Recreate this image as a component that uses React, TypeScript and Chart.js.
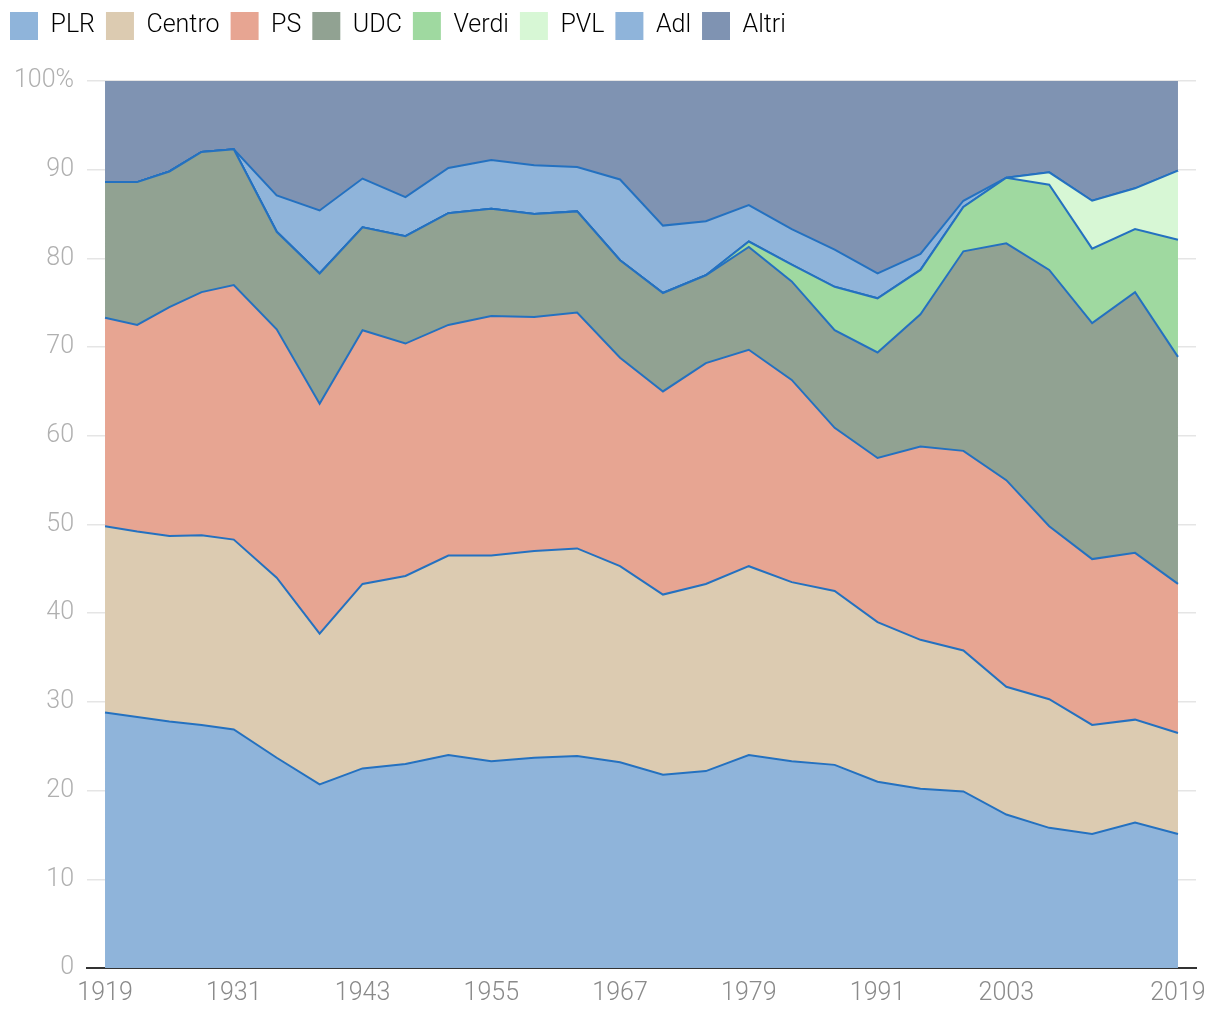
import { useEffect, useRef } from "react";
import { Chart, registerables } from "chart.js";

Chart.register(...registerables);

const years = [1919, 1922, 1925, 1928, 1931, 1935, 1939, 1943, 1947, 1951, 1955, 1959, 1963, 1967, 1971, 1975, 1979, 1983, 1987, 1991, 1995, 1999, 2003, 2007, 2011, 2015, 2019];
const xTickYears = [1919, 1931, 1943, 1955, 1967, 1979, 1991, 2003, 2019];

const plr = [28.8, 28.3, 27.8, 27.4, 26.9, 23.7, 20.7, 22.5, 23.0, 24.0, 23.3, 23.7, 23.9, 23.2, 21.8, 22.2, 24.0, 23.3, 22.9, 21.0, 20.2, 19.9, 17.3, 15.8, 15.1, 16.4, 15.1];
const centro = [21.0, 20.9, 20.9, 21.4, 21.4, 20.3, 17.0, 20.8, 21.2, 22.5, 23.2, 23.3, 23.4, 22.1, 20.3, 21.1, 21.3, 20.2, 19.6, 18.0, 16.8, 15.9, 14.4, 14.5, 12.3, 11.6, 11.4];
const ps = [23.5, 23.3, 25.8, 27.4, 28.7, 28.0, 25.9, 28.6, 26.2, 26.0, 27.0, 26.4, 26.6, 23.5, 22.9, 24.9, 24.4, 22.8, 18.4, 18.5, 21.8, 22.5, 23.3, 19.5, 18.7, 18.8, 16.8];
const udc = [15.3, 16.1, 15.3, 15.8, 15.3, 11.0, 14.7, 11.6, 12.1, 12.6, 12.1, 11.6, 11.4, 11.0, 11.1, 9.9, 11.6, 11.1, 11.0, 11.9, 14.9, 22.5, 26.7, 28.9, 26.6, 29.4, 25.6];
const verdi = [0, 0, 0, 0, 0, 0, 0, 0, 0, 0, 0, 0, 0, 0, 0, 0, 0.6, 1.9, 4.9, 6.1, 5.0, 5.0, 7.4, 9.6, 8.4, 7.1, 13.2];
const pvl = [0, 0, 0, 0, 0, 0, 0, 0, 0, 0, 0, 0, 0, 0, 0, 0, 0, 0, 0, 0, 0, 0, 0, 1.4, 5.4, 4.6, 7.8];
const adl = [0, 0, 0, 0, 0, 4.1, 7.1, 5.5, 4.4, 5.1, 5.5, 5.5, 5.0, 9.1, 7.6, 6.1, 4.1, 4.0, 4.2, 2.8, 1.8, 0.7, 0, 0, 0, 0, 0];
const altri = [11.4, 11.4, 10.2, 8.0, 7.7, 12.9, 14.6, 11.0, 13.1, 9.8, 8.9, 9.5, 9.7, 11.1, 16.3, 15.8, 14.0, 16.7, 19.0, 21.7, 19.5, 13.5, 10.9, 10.3, 13.5, 12.1, 10.1];

const seriesLabels = ["PLR", "Centro", "PS", "UDC", "Verdi", "PVL", "Adl", "Altri"];
const seriesData = [plr, centro, ps, udc, verdi, pvl, adl, altri];
const seriesColors = ["#8fb4da", "#dccbb1", "#e7a592", "#91a292", "#9fd9a0", "#d7f7d5", "#8fb4da", "#7f93b2"];

const LINE = "#2471c0";
const FONT = "Roboto, 'Helvetica Neue', Inter, sans-serif";

const legendSpacing = {
  id: "legendSpacing",
  beforeInit(chart: any) {
    const legend = chart.legend;
    if (!legend) return;
    const origFit = legend.fit;
    legend.fit = function () {
      origFit.call(this);
      this.height += 31;
    };
  },
};

export default function App() {
  const ref = useRef<HTMLCanvasElement>(null);
  useEffect(() => {
    document.body.style.margin = "0";
    const canvas = ref.current;
    if (!canvas) return;
    const datasets = seriesLabels.map((label, i) => ({
      label,
      data: seriesData[i].map((v, j) => ({ x: years[j], y: v })),
      backgroundColor: seriesColors[i],
      borderColor: LINE,
      borderWidth: i === seriesLabels.length - 1 ? 0 : 2,
      fill: i === 0 ? "origin" : "-1",
      pointRadius: 0,
      pointHoverRadius: 0,
      tension: 0,
    }));
    const chart = new Chart(canvas, {
      type: "line",
      data: { datasets },
      plugins: [legendSpacing],
      options: {
        animation: false,
        responsive: true,
        maintainAspectRatio: false,
        layout: { padding: { left: 0, right: 24, top: 0, bottom: 0 } },
        plugins: {
          tooltip: { enabled: false },
          legend: {
            position: "top",
            align: "start",
            labels: {
              boxWidth: 28,
              boxHeight: 28,
              padding: 11,
              color: "#353535",
              font: { family: FONT, size: 25, weight: "300" },
              generateLabels: (c: any) =>
                c.data.datasets.map((ds: any, i: number) => ({
                  text: ds.label,
                  fillStyle: ds.backgroundColor,
                  strokeStyle: ds.backgroundColor,
                  lineWidth: 0,
                  hidden: false,
                  datasetIndex: i,
                })),
            },
          },
        },
        scales: {
          x: {
            type: "linear",
            min: 1917.32,
            max: 2020.68,
            z: 1,
            grid: { display: true, drawOnChartArea: false, drawTicks: false },
            border: { display: true, color: "#333333", width: 2 },
            afterBuildTicks: (axis: any) => {
              axis.ticks = xTickYears.map((value) => ({ value }));
            },
            afterFit: (scale: any) => {
              scale.height = 52;
            },
            ticks: {
              autoSkip: false,
              maxRotation: 0,
              padding: 11,
              color: "#8a8a8a",
              font: { family: FONT, size: 25, weight: "300" },
              callback: (v: any) => String(v),
            },
          },
          y: {
            stacked: true,
            min: 0,
            max: 100,
            z: 1,
            afterFit: (scale: any) => {
              scale.width = 88;
            },
            grid: { color: "rgba(0,0,0,0.1)", lineWidth: 1.5, drawTicks: false },
            border: { display: false },
            ticks: {
              stepSize: 10,
              padding: 13,
              color: "#b0b0b0",
              font: { family: FONT, size: 25, weight: "300" },
              callback: (v: any) => (v === 100 ? "100%" : String(v)),
            },
          },
        },
      },
    });
    return () => chart.destroy();
  }, []);
  return (
    <div style={{ position: "absolute", left: -1, top: 1, width: 1221, height: 1019 }}>
      <canvas ref={ref} />
    </div>
  );
}
